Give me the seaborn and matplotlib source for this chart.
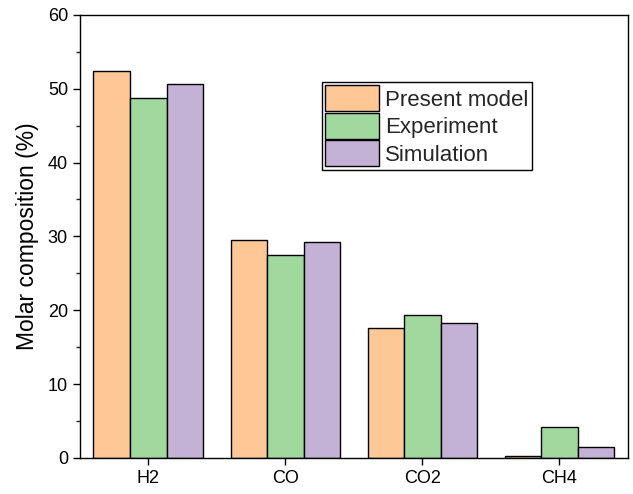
import numpy as np
import pandas as pd
import matplotlib
matplotlib.use("Agg")
import matplotlib.pyplot as plt
import seaborn as sns
from matplotlib.ticker import MultipleLocator

species = ["H2", "CO", "CO2", "CH4"]
present_model = [52.45, 29.5, 17.65, 0.2]
experiment = [48.7, 27.45, 19.37, 4.16]
simulation = [50.7, 29.25, 18.24, 1.45]
series_names = ["Present model", "Experiment", "Simulation"]
colors = ["#FDC896", "#A0D89E", "#C3B1D6"]

df = pd.DataFrame({
    "species": species * 3,
    "value": present_model + experiment + simulation,
    "source": np.repeat(series_names, len(species)),
})

sns.set_style("ticks")
plt.rcParams["font.family"] = ["Liberation Sans", "DejaVu Sans"]

fig = plt.figure(figsize=(6.33, 4.94), dpi=100)
ax = fig.add_axes([0.126, 0.073, 0.866, 0.897])

sns.barplot(data=df, x="species", y="value", hue="source", palette=colors,
            edgecolor="black", linewidth=1.0, width=0.8, saturation=1, ax=ax)

ax.set_xlim(-0.5, 3.5)
ax.set_ylim(0, 60)
ax.yaxis.set_major_locator(MultipleLocator(10))
ax.yaxis.set_minor_locator(MultipleLocator(5))
ax.set_xlabel("")
ax.set_ylabel("Molar composition (%)", fontsize=16.5, color="black", labelpad=6)
ax.tick_params(axis="both", which="major", labelsize=13, direction="out",
               length=5, width=1, color="black", labelcolor="black")
ax.tick_params(axis="y", which="minor", direction="out", length=3, width=1)
for s in ax.spines.values():
    s.set_visible(True)
    s.set_color("black")
    s.set_linewidth(1)

ax.legend(loc="upper right", bbox_to_anchor=(0.825, 0.849), fontsize=16,
          frameon=True, fancybox=False, edgecolor="black", framealpha=1,
          handlelength=2.4, handleheight=1.45, labelspacing=0.05,
          handletextpad=0.3, borderpad=0.15, borderaxespad=0)
ax.get_legend().get_frame().set_linewidth(1)

fig.savefig("out.png", dpi=100)
